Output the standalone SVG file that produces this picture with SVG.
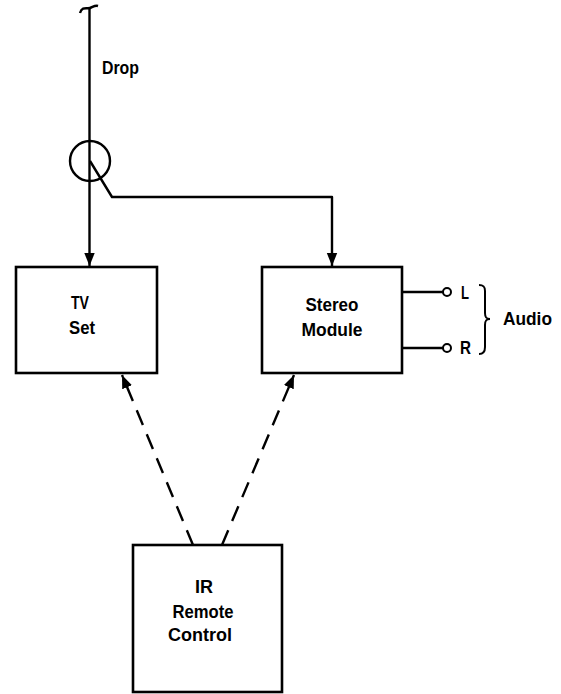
<svg xmlns="http://www.w3.org/2000/svg" width="561" height="694" viewBox="0 0 561 694">
<defs>
<style>
.ln{fill:none;stroke:#000;stroke-width:2.4;stroke-linejoin:round}
.dash{fill:none;stroke:#000;stroke-width:2.4;stroke-dasharray:16,10}
.box{fill:#fff;stroke:#000;stroke-width:2.6}
.t{font-family:"Liberation Sans",Arial,sans-serif;font-weight:bold;font-size:19px;fill:#000}
.m{text-anchor:middle}
</style>
<marker id="ah" viewBox="0 0 10 10" refX="10" refY="5" markerWidth="5.5" markerHeight="5.5" orient="auto" markerUnits="strokeWidth">
<path d="M0,1 L10,5 L0,9 z" fill="#000"/>
</marker>
</defs>
<rect width="561" height="694" fill="#fff"/>
<g id="connectors">
<path class="ln" d="M80,13 C82,6 87,9 90,8 C93,7 95,5 98,6"/>
<line class="ln" x1="89.5" y1="8" x2="89.5" y2="266" marker-end="url(#ah)"/>
<circle class="ln" cx="90" cy="161" r="20"/>
<path class="ln" d="M90,161 L112,197 L332,197 L332,266" marker-end="url(#ah)"/>
<line class="dash" x1="193" y1="545" x2="122" y2="375" marker-end="url(#ah)"/>
<line class="dash" x1="222" y1="545" x2="294" y2="375" marker-end="url(#ah)"/>
<line class="ln" x1="402" y1="292" x2="443" y2="292"/>
<circle cx="447" cy="292" r="4" fill="#fff" stroke="#000" stroke-width="2"/>
<line class="ln" x1="402" y1="348" x2="443" y2="348"/>
<circle cx="447" cy="348" r="4" fill="#fff" stroke="#000" stroke-width="2"/>
<path fill="none" stroke="#000" stroke-width="2" d="M479,285 C484,285 485,287 485,291 L485,313 C485,317 486,319 490,319 C486,319 485,321 485,325 L485,347 C485,351 484,354 479,354"/>
</g>
<g id="drop-label"><text class="t" x="102" y="74" textLength="37" lengthAdjust="spacingAndGlyphs">Drop</text></g>
<g id="tv">
<rect class="box" x="16" y="267" width="141" height="106"/>
<text class="t m" x="80" y="309" textLength="18" lengthAdjust="spacingAndGlyphs">TV</text>
<text class="t m" x="82" y="334" textLength="26" lengthAdjust="spacingAndGlyphs">Set</text>
</g>
<g id="stereo">
<rect class="box" x="262" y="267" width="140" height="106"/>
<text class="t m" x="332" y="311" textLength="53" lengthAdjust="spacingAndGlyphs">Stereo</text>
<text class="t m" x="332" y="336" textLength="61" lengthAdjust="spacingAndGlyphs">Module</text>
</g>
<g id="audio">
<text class="t" x="461" y="299" textLength="8" lengthAdjust="spacingAndGlyphs">L</text>
<text class="t" x="460" y="354" textLength="11" lengthAdjust="spacingAndGlyphs">R</text>
<text class="t" x="503" y="325" textLength="49" lengthAdjust="spacingAndGlyphs">Audio</text>
</g>
<g id="remote">
<rect class="box" x="133" y="545" width="149" height="147"/>
<text class="t m" x="204" y="593" textLength="18" lengthAdjust="spacingAndGlyphs">IR</text>
<text class="t m" x="203" y="618" textLength="61" lengthAdjust="spacingAndGlyphs">Remote</text>
<text class="t m" x="200" y="641" textLength="64" lengthAdjust="spacingAndGlyphs">Control</text>
</g>
</svg>
